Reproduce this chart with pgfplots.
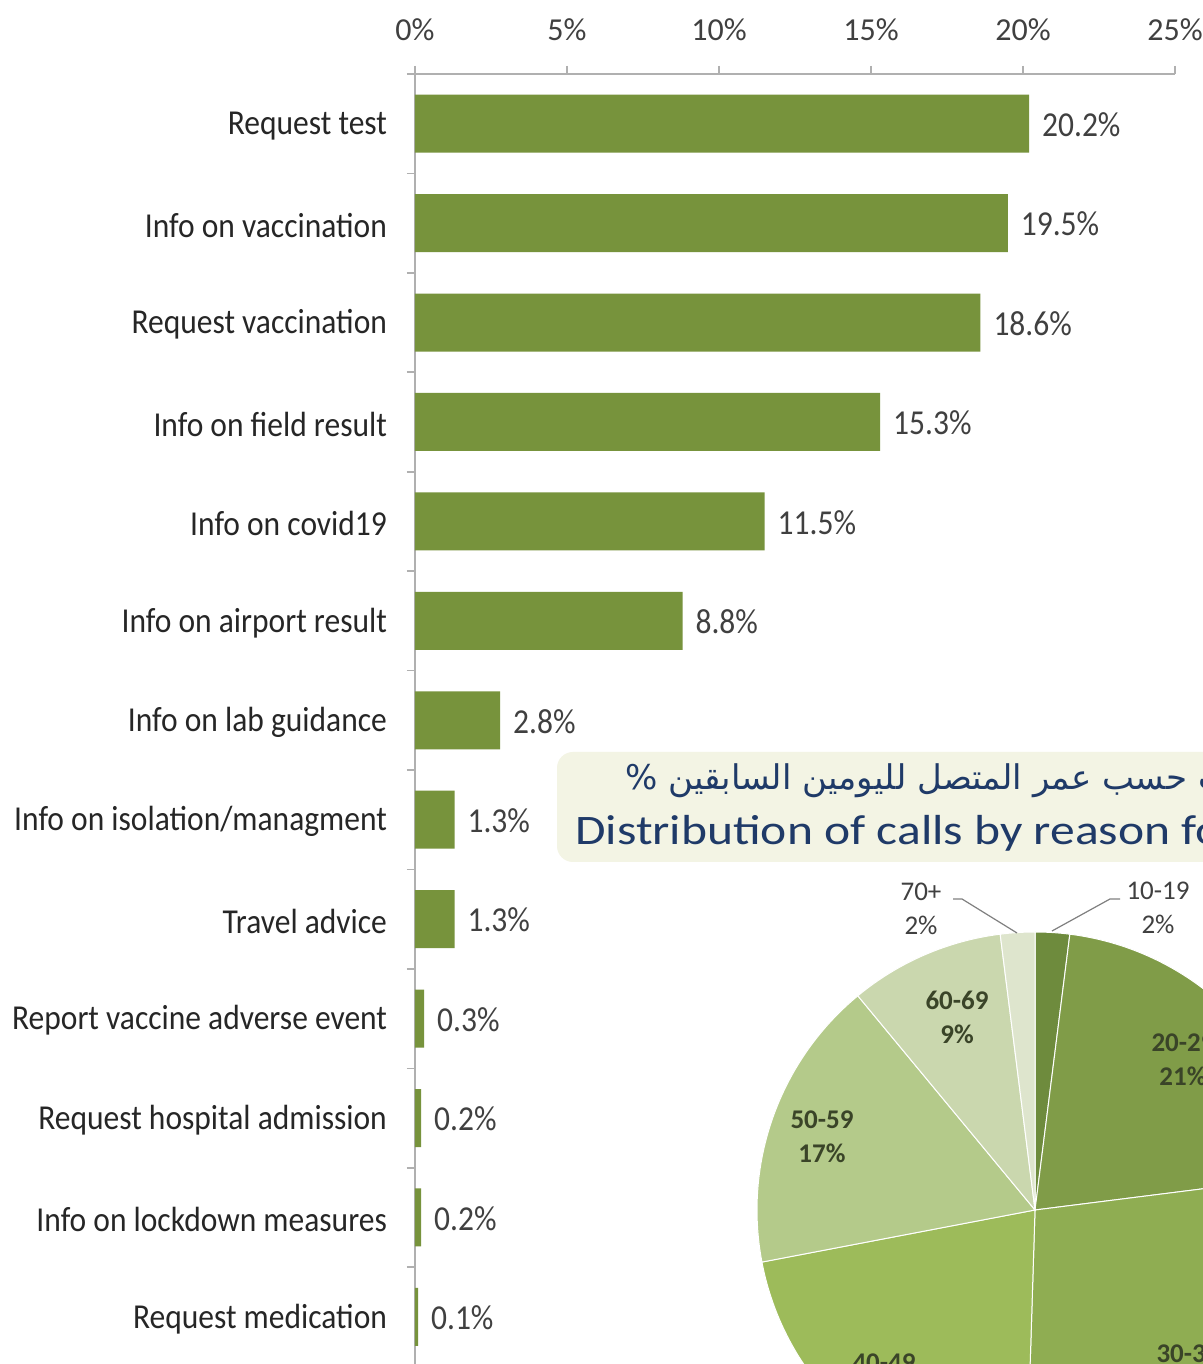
\documentclass[border=0pt]{standalone}
\usepackage{pgfplots}
\pgfplotsset{compat=1.18}
\usepackage{fontspec}
\setmainfont{Carlito}
\newfontfamily\barfont{Carlito}[FakeStretch=0.9]
\newfontfamily\titlefont{Carlito}[FakeStretch=1.18]
\newfontfamily\arabicfont[Script=Arabic]{DejaVu Sans}
\TeXXeTstate=1
\definecolor{barg}{HTML}{77933C}
\definecolor{axisgray}{HTML}{B0B0B0}
\definecolor{textgray}{HTML}{404040}
\definecolor{navy}{HTML}{1F3A68}
\definecolor{boxfill}{HTML}{F3F4E4}
\definecolor{p1}{HTML}{6E8B3D}
\definecolor{p2}{HTML}{809C48}
\definecolor{p3}{HTML}{8FAD52}
\definecolor{p4}{HTML}{9DBB5A}
\definecolor{p5}{HTML}{B4CA8A}
\definecolor{p6}{HTML}{CAD7AE}
\definecolor{p7}{HTML}{DEE5CD}
\definecolor{pielab}{HTML}{3A4428}
\begin{document}
\begin{tikzpicture}
\useasboundingbox (0,0) rectangle (601.5pt,682pt);
\clip (0,0) rectangle (601.5pt,682pt);
\fill[white] (0,0) rectangle (601.5pt,682pt);
\begin{axis}[
  at={(207.5pt,645pt)}, anchor=north west,
  scale only axis, width=380pt, height=646.3pt,
  xmin=0, xmax=25, ymin=-0.5, ymax=12.5,
  axis x line=top, axis y line=left,
  axis line style={-, draw=axisgray, line width=0.8pt},
  xtick={0,5,...,25},
  xticklabels={0\%,5\%,10\%,15\%,20\%,25\%},
  ytick={0,...,12},
  yticklabels={Request medication,Info on lockdown measures,Request hospital admission,Report vaccine adverse event,Travel advice,Info on isolation/managment,Info on lab guidance,Info on airport result,Info on covid19,Info on field result,Request vaccination,Info on vaccination,Request test},
  minor ytick={-0.5,0.5,...,12.5},
  tick align=outside, major tick length=4pt, minor tick length=4pt,
  major y tick style={draw=none},
  minor y tick style={draw=axisgray, line width=0.8pt},
  major x tick style={draw=axisgray, line width=0.8pt},
  xticklabel style={font=\fontsize{16}{18}\selectfont, text=textgray, yshift=9pt},
  yticklabel style={font=\barfont\fontsize{17.5}{20}\selectfont, text=black!85, xshift=-6.5pt, yshift=-1pt},
  clip=false,
]
\addplot[xbar, fill=barg, draw=none, bar width=29pt,
  point meta=x,
  nodes near coords={\pgfmathprintnumber[fixed,fixed zerofill,precision=1,assume math mode=true]{\pgfplotspointmeta}\%},
  nodes near coords style={anchor=west, xshift=3pt, yshift=-0.5pt, font=\barfont\fontsize{17.5}{20}\selectfont, text=textgray}]
coordinates {
(20.2,12) (19.5,11) (18.6,10) (15.3,9) (11.5,8) (8.8,7) (2.8,6) (1.3,5) (1.3,4) (0.3,3) (0.2,2) (0.2,1) (0.1,0)
};
\end{axis}
% title box
\fill[boxfill, rounded corners=8pt] (278.5pt,251pt) rectangle (640pt,306pt);
\node[anchor=base west, inner sep=0pt, text=navy, font=\fontsize{17}{20}\arabicfont] at (312.5pt,287pt)
  {\beginR توزيع المكالمات حسب عمر المتصل لليومين السابقين \%\endR};
\node[anchor=base west, inner sep=0pt, text=navy, font=\titlefont\fontsize{21}{24}\selectfont] at (287.5pt,259.5pt)
  {Distribution of calls by reason for calling};
% pie
\begin{axis}[at={(517.5pt,77pt)}, anchor=center, scale only axis,
  width=278pt, height=278pt, xmin=-1, xmax=1, ymin=-1, ymax=1,
  hide axis, clip=false]
\fill[p1, draw=white, line width=0.5pt] (axis cs:0,0) -- ++(90:139pt) arc[start angle=90, end angle={90-3.6*2}, radius=139pt] -- cycle;
\fill[p2, draw=white, line width=0.5pt] (axis cs:0,0) -- ++({90-3.6*2}:139pt) arc[start angle={90-3.6*2}, end angle={90-3.6*23}, radius=139pt] -- cycle;
\fill[p3, draw=white, line width=0.5pt] (axis cs:0,0) -- ++({90-3.6*23}:139pt) arc[start angle={90-3.6*23}, end angle={90-3.6*50.5}, radius=139pt] -- cycle;
\fill[p4, draw=white, line width=0.5pt] (axis cs:0,0) -- ++({90-3.6*50.5}:139pt) arc[start angle={90-3.6*50.5}, end angle={90-3.6*72}, radius=139pt] -- cycle;
\fill[p5, draw=white, line width=0.5pt] (axis cs:0,0) -- ++({90-3.6*72}:139pt) arc[start angle={90-3.6*72}, end angle={90-3.6*89}, radius=139pt] -- cycle;
\fill[p6, draw=white, line width=0.5pt] (axis cs:0,0) -- ++({90-3.6*89}:139pt) arc[start angle={90-3.6*89}, end angle={90-3.6*98}, radius=139pt] -- cycle;
\fill[p7, draw=white, line width=0.5pt] (axis cs:0,0) -- ++({90-3.6*98}:139pt) arc[start angle={90-3.6*98}, end angle={90-3.6*100}, radius=139pt] -- cycle;
\end{axis}
% pie labels
\begin{scope}[every node/.style={align=center, inner sep=0pt, font=\fontsize{13.5}{17}\selectfont}]
\node[text=pielab, font=\bfseries\fontsize{13.5}{17}\selectfont] at (478.5pt,173.5pt) {60-69\\9\%};
\node[text=pielab, font=\bfseries\fontsize{13.5}{17}\selectfont] at (411pt,113.5pt) {50-59\\17\%};
\node[text=pielab, font=\bfseries\fontsize{13.5}{17}\selectfont] at (591.5pt,152pt) {20-29\\21\%};
\node[text=pielab, font=\bfseries\fontsize{13.5}{17}\selectfont] at (594pt,-3.5pt) {30-39\\28\%};
\node[text=pielab, font=\bfseries\fontsize{13.5}{17}\selectfont] at (442pt,-8pt) {40-49\\21\%};
\node[text=textgray] at (460.5pt,227.5pt) {70+\\2\%};
\node[text=textgray] at (579pt,228pt) {10-19\\2\%};
\end{scope}
\draw[gray, line width=0.6pt] (476.5pt,232.5pt) -- (481pt,232.5pt) -- (508.5pt,215.5pt);
\draw[gray, line width=0.6pt] (560pt,232.5pt) -- (555pt,232.5pt) -- (526pt,216.5pt);
\end{tikzpicture}
\end{document}
